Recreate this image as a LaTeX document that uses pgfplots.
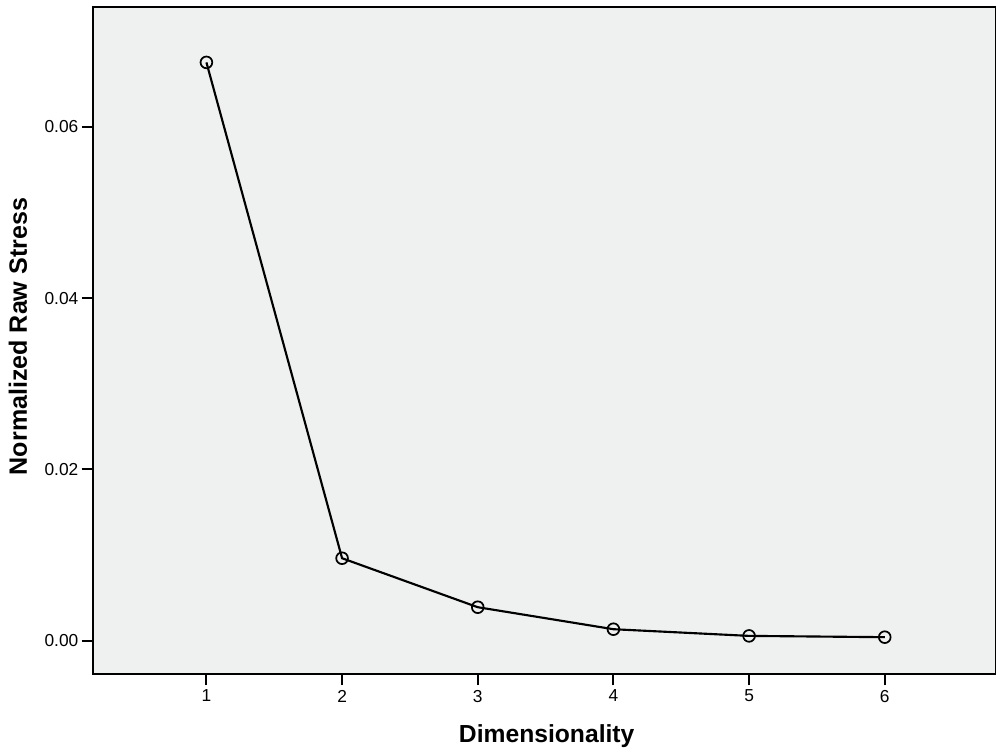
\documentclass[border=0pt]{standalone}
\usepackage{pgfplots}
\pgfplotsset{compat=1.18}
\usepackage{fontspec}
\setmainfont{Liberation Sans}
\definecolor{plotbg}{RGB}{239,240,240}

\begin{document}
\begin{tikzpicture}
\begin{axis}[
  scale only axis,
  width=677.25pt, height=500.25pt,
  xmin=0.164, xmax=6.82,
  ymin=-0.0039, ymax=0.0740,
  axis background/.style={fill=plotbg},
  axis line style={line width=1.5pt},
  xtick={1,2,3,4,5,6},
  ytick={0,0.02,0.04,0.06},
  scaled y ticks=false,
  xtick pos=left, ytick pos=left,
  tick align=outside,
  major tick length=8.5pt,
  tick style={line width=1.5pt, black},
  /pgf/number format/assume math mode=true,
  yticklabel style={/pgf/number format/fixed, /pgf/number format/fixed zerofill, /pgf/number format/precision=2, xshift=1pt},
  ticklabel style={font=\fontsize{13}{15}\selectfont},
  xlabel={Dimensionality},
  ylabel={Normalized Raw Stress},
  xlabel style={font=\fontsize{18.5}{22}\selectfont\bfseries, at={(axis description cs:0.5024,-0.1034)}, anchor=base},
  ylabel style={font=\fontsize{18.8}{22}\selectfont\bfseries, at={(axis description cs:-0.0731,0.506)}, anchor=base},
]
\addplot[black, line width=1.6pt, mark=o, mark size=4.4pt, mark options={line width=1.3pt}]
  coordinates {(1,0.06753) (2,0.00962) (3,0.00390) (4,0.00133) (5,0.00055) (6,0.00040)};
\end{axis}
\pgfresetboundingbox
\path[use as bounding box] ([xshift=-69.75pt,yshift=-57.75pt]current axis.south west) rectangle ([yshift=5.25pt]current axis.north east);
\end{tikzpicture}
\end{document}
